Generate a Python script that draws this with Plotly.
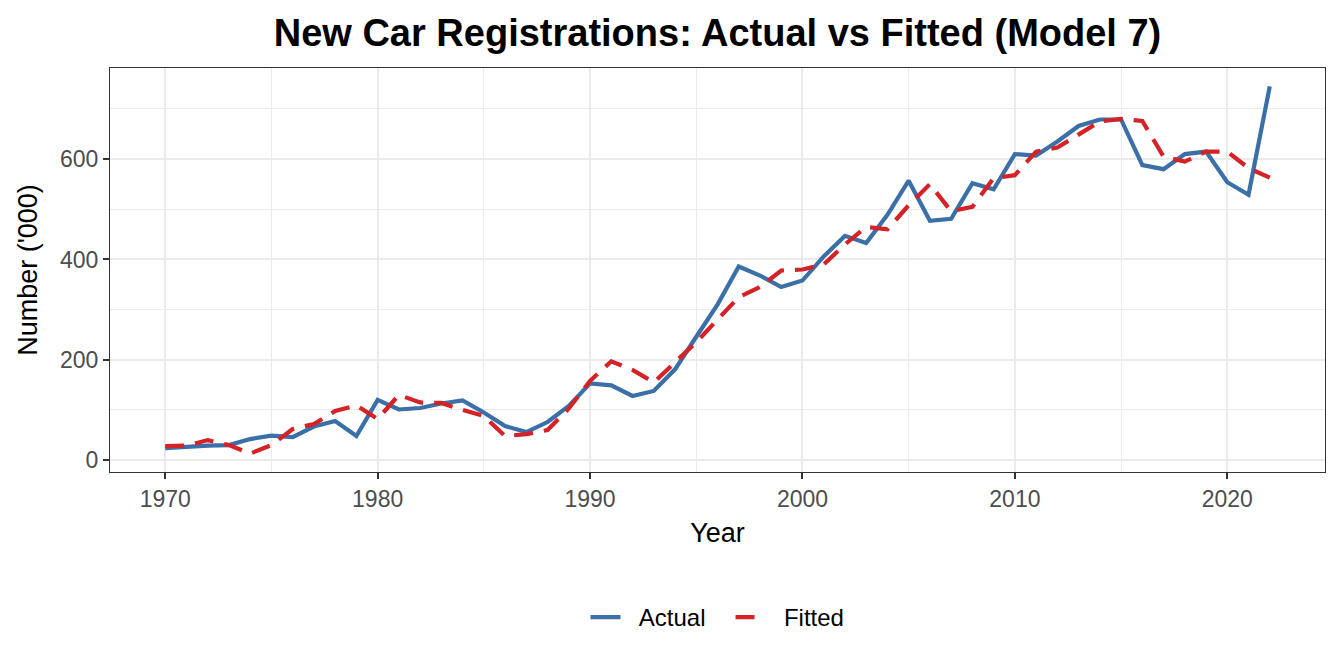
import plotly.graph_objects as go

years = list(range(1970, 2023))
actual = [24, 27, 29, 30, 42, 49, 46, 67, 78, 48,
          120, 101, 104, 113, 119, 95, 68, 56, 76, 108,
          153, 149, 128, 138, 181, 246, 310, 386, 368, 345,
          358, 406, 447, 433, 489, 557, 477, 481, 552, 540,
          610, 607, 635, 666, 679, 679, 588, 580, 610, 615,
          554, 529, 745]
fitted = [28, 29, 40, 30, 13, 30, 62, 72, 98, 109,
          82, 130, 115, 114, 100, 88, 48, 52, 60, 103,
          158, 197, 180, 155, 195, 235, 280, 325, 345, 378,
          380, 390, 430, 465, 460, 508, 550, 496, 505, 562,
          568, 615, 623, 650, 675, 680, 676, 605, 595, 615,
          615, 582, 563]
series_names = ["Actual", "Fitted"]

font = "Liberation Sans, Arial, sans-serif"
sp = "\u00a0"
fig = go.Figure()
fig.add_trace(go.Scatter(x=years, y=actual, mode="lines", name=sp * 2 + series_names[0] + sp * 3,
                         line=dict(color="#3A6FA8", width=4.2)))
fig.add_trace(go.Scatter(x=years, y=fitted, mode="lines", name=sp * 2 + series_names[1],
                         line=dict(color="#D42226", width=4.2, dash="19px,11px")))

axis_common = dict(showline=True, linecolor="#333333", linewidth=1, mirror=True,
                   ticks="outside", ticklen=6, tickcolor="#333333", tickwidth=1.5,
                   gridcolor="#EBEBEB", gridwidth=1.6, zeroline=False,
                   tickfont=dict(size=23, color="#4D4D4D", family=font),
                   title_font=dict(size=27, color="black", family=font))

fig.update_xaxes(range=[1967.4, 2024.6], tickvals=[1970, 1980, 1990, 2000, 2010, 2020],
                 minor=dict(tickvals=[1975, 1985, 1995, 2005, 2015], showgrid=True,
                            gridcolor="#EBEBEB", gridwidth=0.8, ticks=""),
                 title_text="Year", title_standoff=12, **axis_common)
fig.update_yaxes(range=[-23.6, 781.6], tickvals=[0, 200, 400, 600],
                 minor=dict(tickvals=[100, 300, 500, 700], showgrid=True,
                            gridcolor="#EBEBEB", gridwidth=0.8, ticks=""),
                 title_text="Number ('000)", title_standoff=14, **axis_common)

fig.update_layout(
    width=1336, height=664,
    paper_bgcolor="white", plot_bgcolor="white",
    margin=dict(l=102, r=19, t=60, b=200),
    title=dict(text="<b>New Car Registrations: Actual vs Fitted (Model 7)</b>",
               xref="paper", x=0.5, xanchor="center", y=0.963, yanchor="middle",
               font=dict(size=38, color="black", family=font)),
    legend=dict(orientation="h", xref="paper", x=0.5, xanchor="center", y=-0.36, yanchor="middle",
                font=dict(size=24, color="black", family=font)),
    showlegend=True,
)

fig.write_html("out.html")
